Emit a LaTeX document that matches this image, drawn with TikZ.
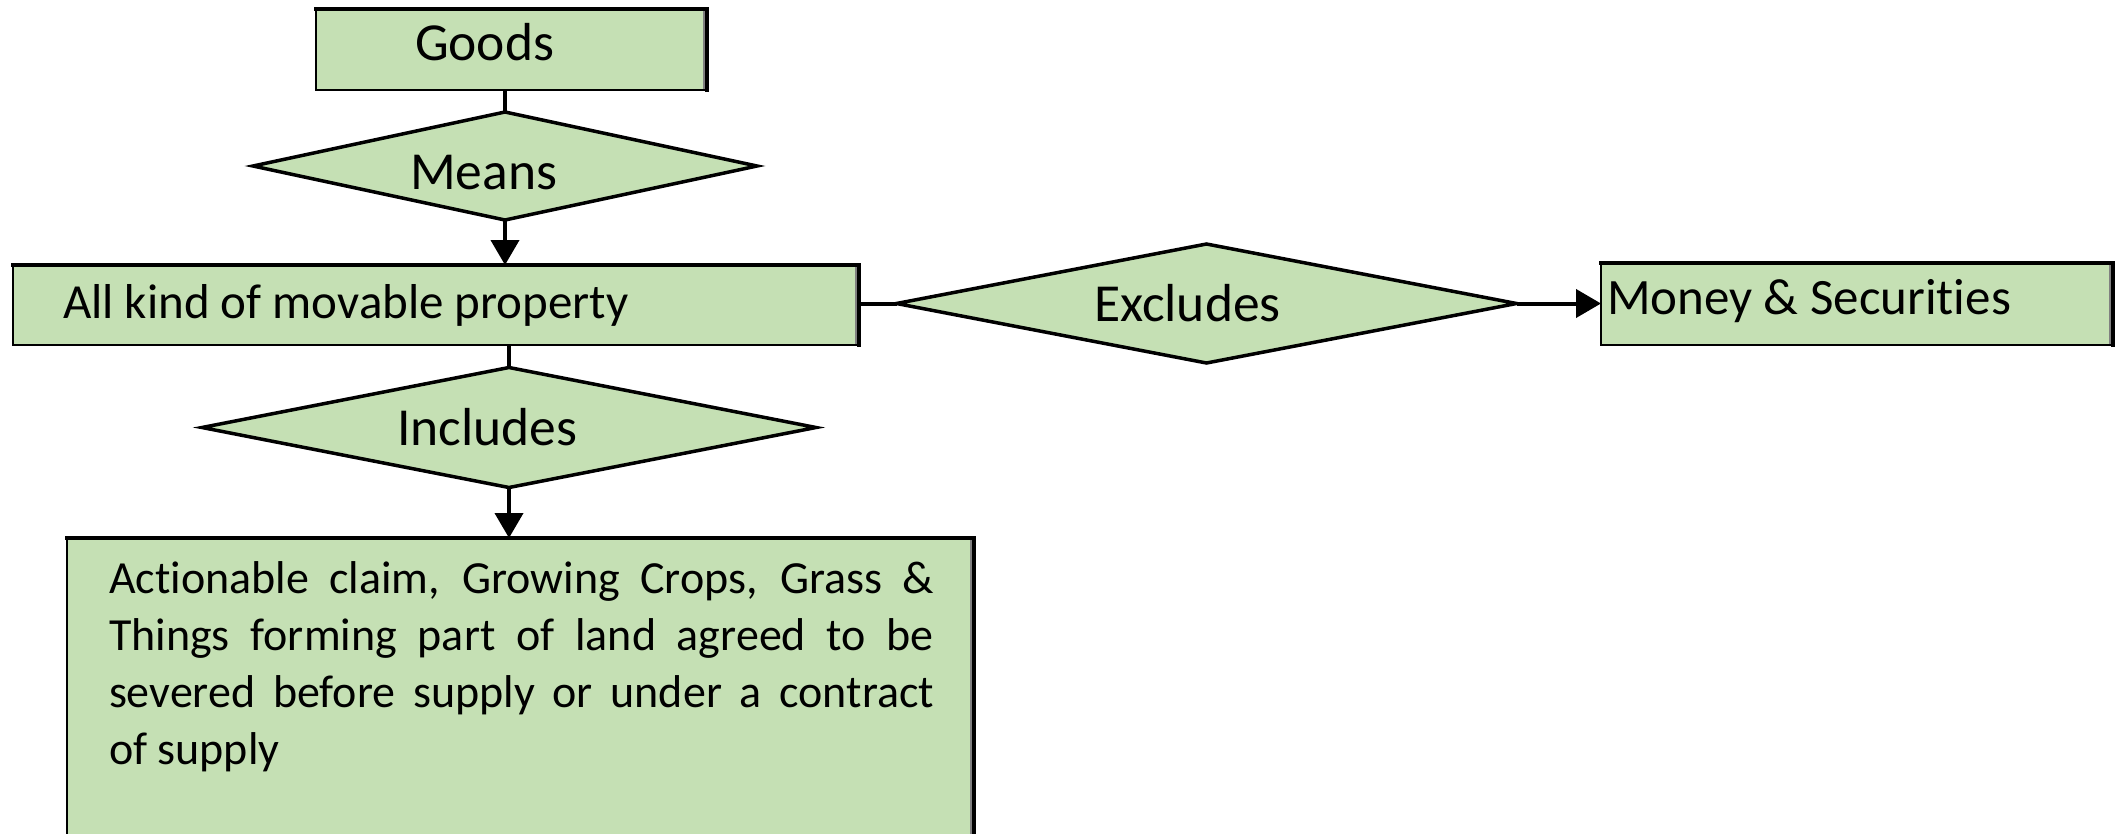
\documentclass[tikz,border=0pt]{standalone}
\usepackage{fontspec}
\setmainfont{Carlito}[Ligatures=NoCommon]
\usetikzlibrary{shapes.geometric,arrows.meta}
\definecolor{boxgreen}{HTML}{C5E0B4}
\definecolor{edgegray}{HTML}{808080}
\begin{document}
\begin{tikzpicture}[x=1pt,y=-1pt,
  greenbox/.style={rectangle, fill=boxgreen, draw=none, inner sep=0pt, outer sep=0pt, anchor=north west},
  decision/.style={diamond, fill=boxgreen, draw=black, line width=3.5pt, inner sep=0pt, outer sep=0pt},
  heavyedge/.style={line width=4.5pt, line cap=rect},
  lightedge/.style={line width=1.8pt},
  shadeedge/.style={line width=2pt, edgegray},
  caption/.style={inner sep=0pt, outer sep=0pt, anchor=base west, font=\fontsize{51pt}{61pt}\selectfont},
  bigcaption/.style={caption, font=\fontsize{53.5pt}{64pt}\selectfont},
  connector/.style={line width=4pt},
  flow/.style={connector, -{Triangle[length=25pt,width=28pt]}},
]
\useasboundingbox (0,0) rectangle (2116,833);
\clip (0,0) rectangle (2116,833);

% rectangles
\node[greenbox, minimum width=391pt, minimum height=81pt] (goods) at (316,9) {};
\node[greenbox, minimum width=846pt, minimum height=80pt] (allkind) at (13,265) {};
\node[greenbox, minimum width=512pt, minimum height=82pt] (money) at (1601,263) {};
\node[greenbox, minimum width=907pt, minimum height=400pt] (actions) at (67,538) {};

% box outlines: heavy on top and right, light on left and bottom
\foreach \b in {goods, allkind, money, actions} {
  \draw[shadeedge] ([xshift=-3.5pt]\b.north east) -- ([xshift=-3.5pt]\b.south east);
  \draw[lightedge] (\b.north west) -- (\b.south west) -- (\b.south east);
  \draw[heavyedge] (\b.north west) -- (\b.north east) -- (\b.south east);
}

% decisions
\node[decision, minimum width=504pt, minimum height=108pt] (means) at (505,166) {};
\node[decision, minimum width=614pt, minimum height=120pt] (includes) at (509,427.5) {};
\node[decision, minimum width=620pt, minimum height=119pt] (excludes) at (1206.5,303.5) {};

% texts
\node[bigcaption] (goodsText) at (415,60) {Goods};
\node[bigcaption] (meansText) at (410,189) {Means};
\node[caption, font=\fontsize{49pt}{59pt}\selectfont] (allkindText) at (63,318) {All kind of movable property};
\node[bigcaption] (includesText) at (397,445) {Includes};
\node[bigcaption] (excludesText) at (1094,321) {Excludes};
\node[caption] (moneyText) at (1607,314) {Money \& Securities};
\node[inner sep=0pt, outer sep=0pt, anchor=base west, text width=825pt, align=justify,
      font=\fontsize{46pt}{57pt}\selectfont] (actionsText) at (109,593)
  {Actionable claim, Growing Crops, Grass \&\linebreak
   Things forming part of land agreed to be\linebreak
   severed before supply or under a contract\linebreak
   of supply};

% connectors
\draw[connector] (means.north |- goods.south) -- (means.north);
\draw[flow] (means.south) -- (means.south |- allkind.north);
\draw[connector] (includes.north |- allkind.south) -- (includes.north);
\draw[flow] (includes.south) -- (includes.south |- actions.north);
\draw[connector] (allkind.east |- excludes.west) -- (excludes.west);
\draw[flow] (excludes.east) -- (excludes.east -| money.west);
\end{tikzpicture}
\end{document}
